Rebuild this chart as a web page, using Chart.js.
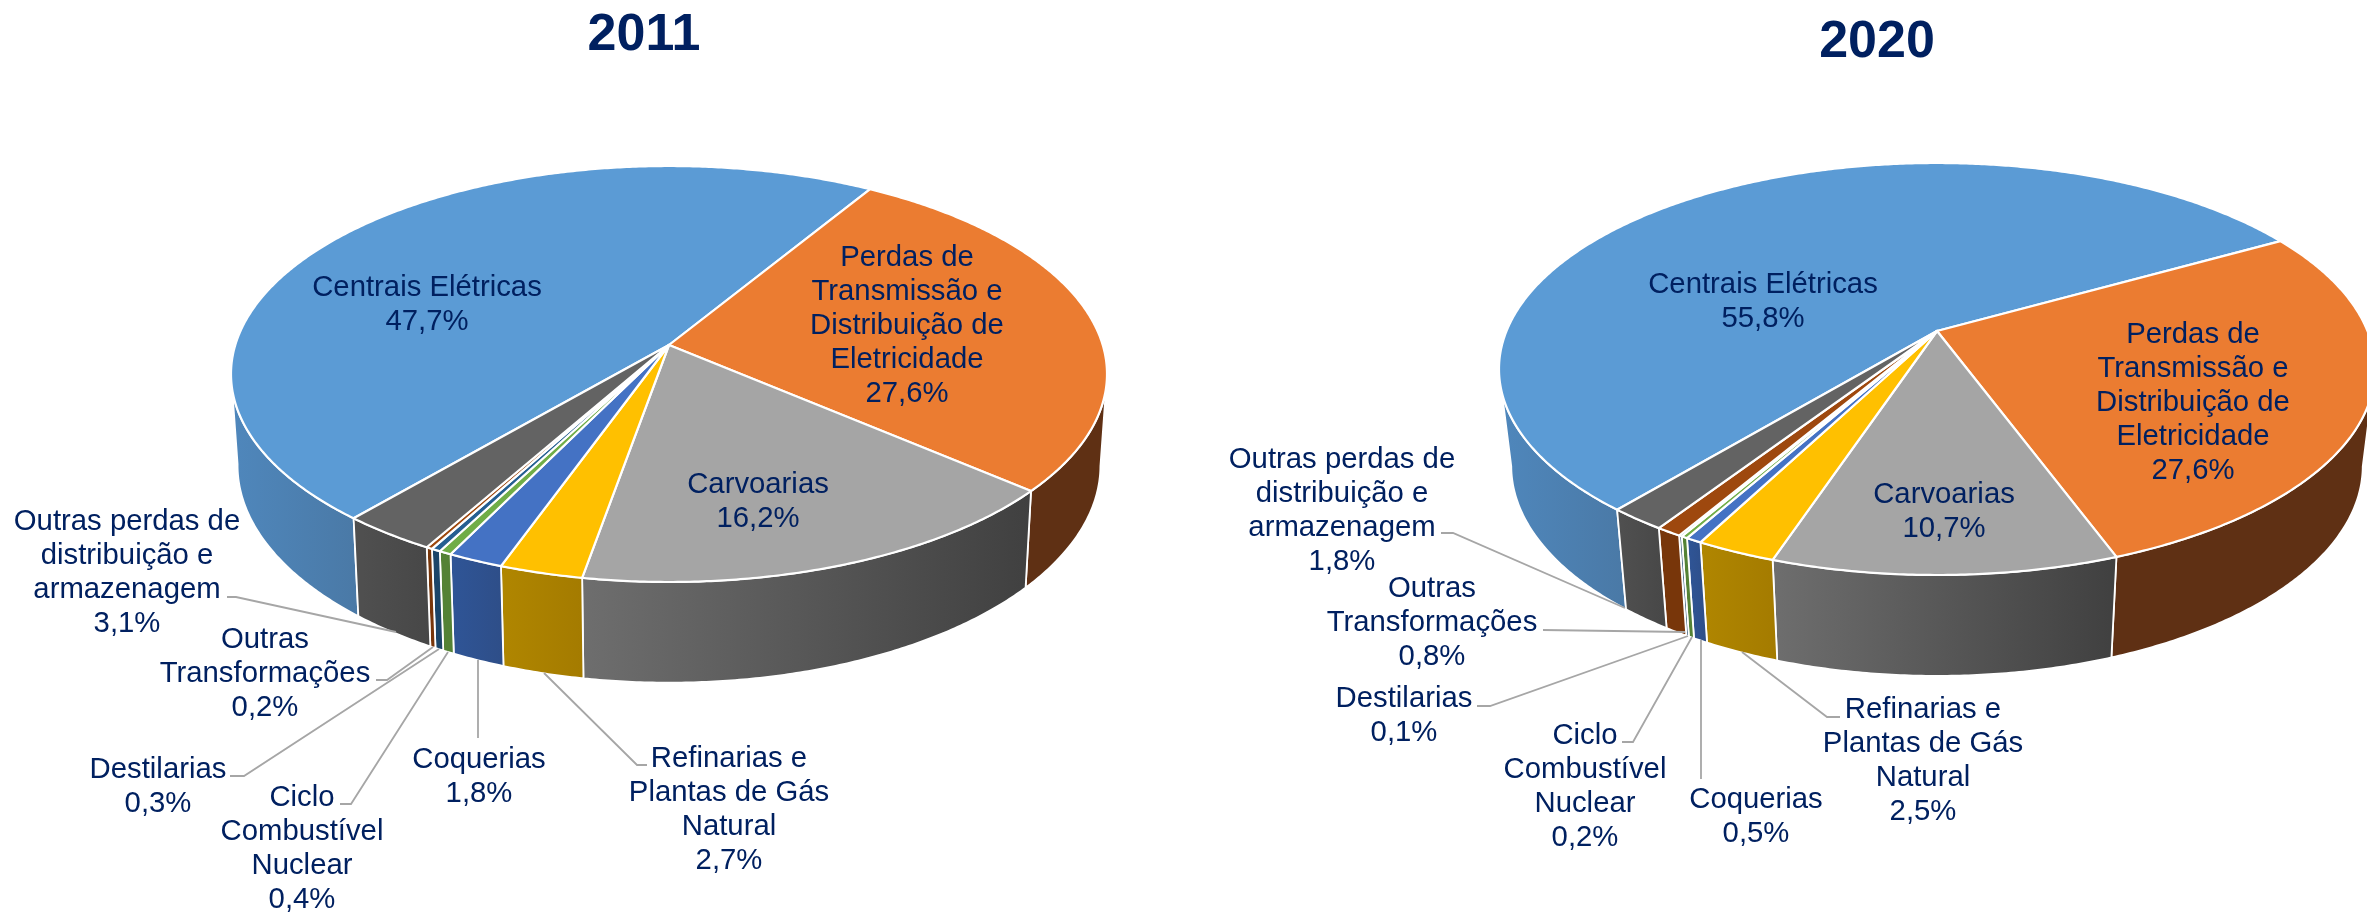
<!DOCTYPE html>
<html lang="pt">
<head>
<meta charset="utf-8">
<title>2011 e 2020</title>
<script src="https://cdn.jsdelivr.net/npm/chart.js@4/dist/chart.umd.js"></script>
<style>
html,body{margin:0;padding:0;background:#fff;overflow:hidden;width:2367px;height:912px}
canvas{position:absolute;left:0;top:0}
</style>
</head>
<body>
<canvas id="c2011" width="2367" height="912"></canvas>
<canvas id="c2020" width="2367" height="912"></canvas>
<script>
// ---------- data ----------
const categories = ['Centrais Elétricas','Perdas de Transmissão e Distribuição de Eletricidade','Carvoarias','Refinarias e Plantas de Gás Natural','Coquerias','Ciclo Combustível Nuclear','Destilarias','Outras Transformações','Outras perdas de distribuição e armazenagem'];
const labelLines = [['Centrais Elétricas'],['Perdas de','Transmissão e','Distribuição de','Eletricidade'],['Carvoarias'],['Refinarias e','Plantas de Gás','Natural'],['Coquerias'],['Ciclo','Combustível','Nuclear'],['Destilarias'],['Outras','Transformações'],['Outras perdas de','distribuição e','armazenagem']];
const values2011 = [47.7,27.6,16.2,2.7,1.8,0.4,0.3,0.2,3.1];
const values2020 = [55.8,27.6,10.7,2.5,0.5,0.2,0.1,0.8,1.8];
// ---------- styles ----------
const faceColours = ['#5B9BD5','#EB7C31','#A5A5A5','#FFC000','#4472C4','#70AD47','#255E91','#9E480E','#636363'];
const wallLeft  = ['#4F87BC','#5F3014','#6E6E6E','#B08600','#2F5597','#548235','#1B4569','#78360A','#505050'];
const wallRight = ['#4A79A6','#5F3014','#404040','#A47B00','#2E4E88','#548235','#1B4569','#78360A','#474747'];
const textColour = '#002060', leaderColour = '#A6A6A6';
const fontFamily = '"Liberation Sans", Arial, sans-serif';
const lineHeight = 34;
// ---------- layout of each pie ----------
const layout2011 = {
  title:'2011', titleX:644, titleY:36, rotation:-140.45, warpDeg:1.0,
  apexX:669, apexY:345, rx:438, up:179, down:237, depthBase:90, depthSlope:0.045, bottomScale:0.985,
  labelPos:[[427,288],[907,258],[758,485],[729,759],[479,760],[302,798],[158,770],[265,640],[127,522]],
  leaders:[null,null,null,
    [[647,765],[637,765],[544,673]],
    [[478,738],[478,660]],
    [[340,804],[351,804],[448,652]],
    [[230,776],[244,776],[439,649]],
    [[376,680],[387,680],[433,647]],
    [[227,597],[236,597],[396,632]]]
};
const layout2020 = {
  title:'2020', titleX:1877, titleY:43, rotation:-140.4, warpDeg:0,
  apexX:1937, apexY:331, rx:438, up:168, down:244, depthBase:96, depthSlope:0.02, bottomScale:0.972,
  labelPos:[[1763,285],[2193,335],[1944,495],[1923,710],[1756,800],[1585,736],[1404,699],[1432,589],[1342,460]],
  leaders:[null,null,null,
    [[1840,717],[1827,717],[1742,652]],
    [[1701,779],[1701,640]],
    [[1622,742],[1633,742],[1692,637]],
    [[1477,706],[1490,706],[1688,636]],
    [[1543,630],[1685,632]],
    [[1441,533],[1453,533],[1625,608]]]
};
// ---------- tilted, extruded rendering of the library's arcs ----------
const tiltedPie = {
  id:'tiltedPie',
  beforeDatasetDraw(chart){
    const L = chart.options.plugins.tiltedPie.layout;
    const ctx = chart.ctx;
    const p = (L.down - L.up)/(L.down + L.up);
    const b = L.down*(1-p);
    const a = L.rx*Math.sqrt(1-p*p);
    const smooth = v => { const t = Math.min(1,Math.max(0,v)); return t*t*(3-2*t); };
    const warp = th => {                           // small lens correction of the lower rim
      const d = ((th*180/Math.PI)%360+360)%360;
      return (L.warpDeg*Math.PI/180)*smooth((d-130)/50)*(1-smooth((d-235)/90));
    };
    const rim = t0 => {
      const th = t0 + warp(t0);
      const x = Math.sin(th), y = -Math.cos(th), w = 1-p*y;
      return [L.apexX + a*x/w, L.apexY + b*y/w];
    };
    const low = th => {
      const r = rim(th), dy = r[1]-L.apexY;
      return [L.apexX + (r[0]-L.apexX)*L.bottomScale, r[1] + L.depthBase + L.depthSlope*dy];
    };
    const arcs = chart.getDatasetMeta(0).data.map(el => {
      const s = el.getProps(['startAngle','endAngle'],true);
      return [s.startAngle + Math.PI/2, s.endAngle + Math.PI/2];
    });
    const limit = Math.PI/2 + Math.asin(p);       // silhouette of the rim
    const norm = t => { let v = t % (2*Math.PI); if (v > Math.PI) v -= 2*Math.PI; if (v < -Math.PI) v += 2*Math.PI; return v; };
    ctx.save();
    ctx.lineJoin = 'round';
    ctx.strokeStyle = '#fff';
    // side walls
    arcs.forEach((arc,i) => {
      const steps = Math.max(4, Math.ceil((arc[1]-arc[0])*120));
      const ths = [];
      for (let k=0;k<=steps;k++){ const t = arc[0]+(arc[1]-arc[0])*k/steps; if (Math.abs(norm(t))>=limit) ths.push(t); }
      if (ths.length<2) return;
      const top = ths.map(rim), bot = ths.map(low);
      const xs = top.concat(bot).map(q=>q[0]);
      const g = ctx.createLinearGradient(Math.min(...xs),0,Math.max(...xs),0);
      g.addColorStop(0,wallLeft[i]); g.addColorStop(1,wallRight[i]);
      ctx.beginPath();
      top.forEach((q,k)=>k?ctx.lineTo(q[0],q[1]):ctx.moveTo(q[0],q[1]));
      bot.reverse().forEach(q=>ctx.lineTo(q[0],q[1]));
      ctx.closePath();
      ctx.fillStyle = g; ctx.fill();
      ctx.lineWidth = 1.8; ctx.stroke();
    });
    // top faces
    arcs.forEach((arc,i) => {
      const steps = Math.max(4, Math.ceil((arc[1]-arc[0])*120));
      ctx.beginPath();
      ctx.moveTo(L.apexX,L.apexY);
      for (let k=0;k<=steps;k++){ const q = rim(arc[0]+(arc[1]-arc[0])*k/steps); ctx.lineTo(q[0],q[1]); }
      ctx.closePath();
      ctx.fillStyle = faceColours[i]; ctx.fill();
      ctx.lineWidth = 2.2; ctx.stroke();
    });
    // leader lines
    ctx.strokeStyle = leaderColour; ctx.lineWidth = 1.8; ctx.lineJoin='miter';
    L.leaders.forEach(pts => {
      if (!pts) return;
      ctx.beginPath();
      pts.forEach((q,k)=>k?ctx.lineTo(q[0],q[1]):ctx.moveTo(q[0],q[1]));
      ctx.stroke();
    });
    // labels
    ctx.fillStyle = textColour;
    ctx.textAlign = 'center'; ctx.textBaseline = 'middle';
    ctx.font = '29.3px ' + fontFamily;
    const vals = chart.data.datasets[0].data;
    vals.forEach((v,i) => {
      const lines = labelLines[i].concat(v.toFixed(1).replace('.',',') + '%');
      lines.forEach((t,k) => ctx.fillText(t, L.labelPos[i][0], L.labelPos[i][1] + k*lineHeight));
    });
    // title
    ctx.font = 'bold 52px ' + fontFamily;
    ctx.fillText(L.title, L.titleX, L.titleY);
    ctx.restore();
    return false;
  }
};
function makeChart(id, values, layout){
  return new Chart(document.getElementById(id), {
    type:'pie',
    data:{labels:categories, datasets:[{data:values, backgroundColor:faceColours, borderColor:'#fff'}]},
    options:{
      responsive:false, animation:false, rotation:layout.rotation,
      plugins:{legend:{display:false}, tooltip:{enabled:false}, title:{display:false}, tiltedPie:{layout}}
    },
    plugins:[tiltedPie]
  });
}
makeChart('c2011', values2011, layout2011);
makeChart('c2020', values2020, layout2020);
</script>
</body>
</html>
